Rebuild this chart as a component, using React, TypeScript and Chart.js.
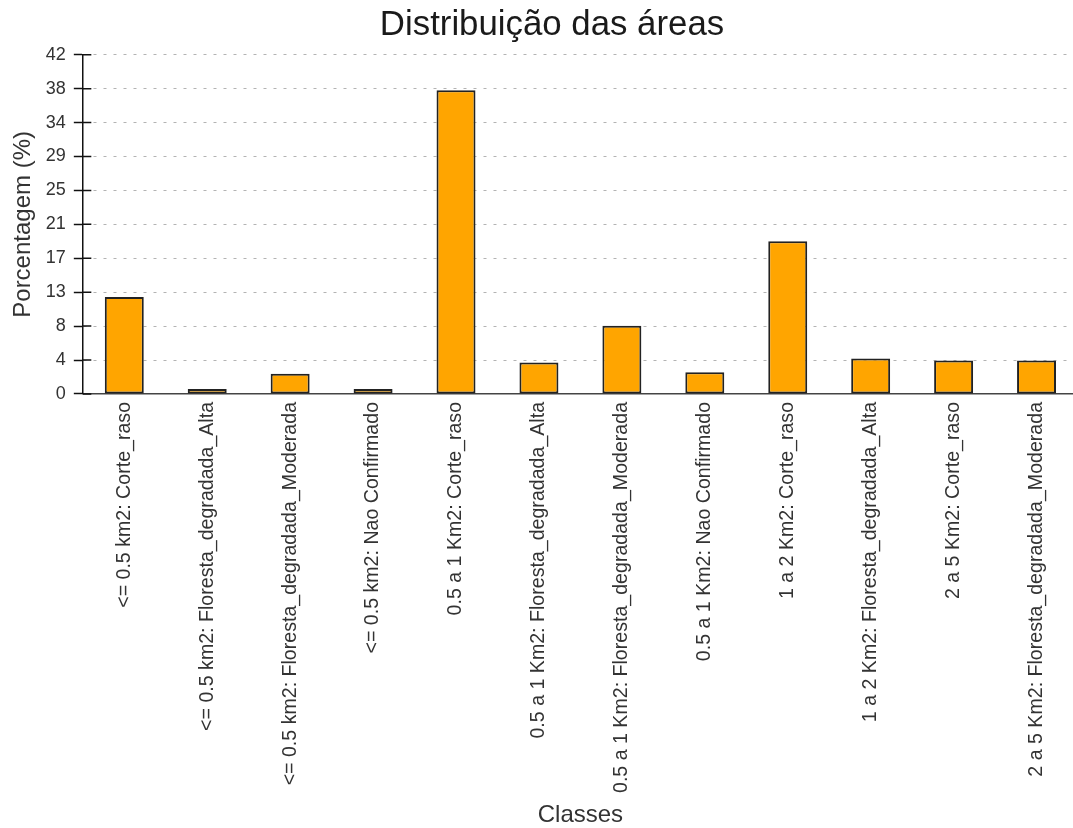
import React, { useEffect, useRef } from "react";
import { Chart, registerables } from "chart.js";

Chart.register(...registerables);

const categories = [
  "<= 0.5 km2: Corte_raso",
  "<= 0.5 km2: Floresta_degradada_Alta",
  "<= 0.5 km2: Floresta_degradada_Moderada",
  "<= 0.5 km2: Nao Confirmado",
  "0.5 a 1 Km2: Corte_raso",
  "0.5 a 1 Km2: Floresta_degradada_Alta",
  "0.5 a 1 Km2: Floresta_degradada_Moderada",
  "0.5 a 1 Km2: Nao Confirmado",
  "1 a 2 Km2: Corte_raso",
  "1 a 2 Km2: Floresta_degradada_Alta",
  "2 a 5 Km2: Corte_raso",
  "2 a 5 Km2: Floresta_degradada_Moderada",
];

const percentages = [12.0, 0.6, 2.5, 0.6, 37.6, 3.9, 8.45, 2.7, 18.9, 4.4, 4.15, 4.15];

const yTickValues = [0, 4.2, 8.4, 12.6, 16.8, 21, 25.2, 29.4, 33.6, 37.8, 42];
const yTickLabels = ["0", "4", "8", "13", "17", "21", "25", "29", "34", "38", "42"];

const FONT = "'Liberation Sans', Arial, sans-serif";

const innerTicks = {
  id: "innerTicks",
  afterDraw(chart: any) {
    const y = chart.scales.y;
    const ctx = chart.ctx;
    const x0 = chart.chartArea.left;
    ctx.save();
    ctx.strokeStyle = "#111";
    ctx.lineWidth = 1.5;
    ctx.setLineDash([]);
    ctx.beginPath();
    yTickValues.forEach((v) => {
      const py = y.getPixelForValue(v);
      ctx.moveTo(x0, py);
      ctx.lineTo(x0 + 8.5, py);
    });
    ctx.stroke();
    ctx.restore();
  },
};

export default function App() {
  const ref = useRef<HTMLCanvasElement | null>(null);

  useEffect(() => {
    if (!ref.current) return;
    const chart = new Chart(ref.current, {
      type: "bar",
      data: {
        labels: categories,
        datasets: [
          {
            label: "Porcentagem",
            data: percentages,
            backgroundColor: "#FFA500",
            borderColor: "#222",
            borderWidth: 2,
            borderSkipped: false,
            barPercentage: 0.47,
            categoryPercentage: 1,
          },
        ],
      },
      options: {
        animation: false,
        responsive: false,
        devicePixelRatio: 1,
        layout: { padding: { left: 4, right: 0, top: 0, bottom: 0 } },
        plugins: {
          legend: { display: false },
          tooltip: { enabled: false },
          title: {
            display: true,
            text: "Distribuição das áreas",
            color: "#1a1a1a",
            font: { family: FONT, size: 34.8, weight: "normal" as any },
            padding: { top: 5, bottom: 8 },
          },
          subtitle: {
            display: true,
            position: "bottom",
            fullSize: false,
            text: "Classes",
            color: "#333",
            font: { family: FONT, size: 24, lineHeight: 1, weight: "normal" as any },
            padding: { top: 2, bottom: 1 },
          },
        },
        scales: {
          x: {
            grid: { display: false, drawTicks: false },
            border: { display: true, color: "#444", width: 1.5 },
            ticks: {
              autoSkip: false,
              minRotation: 90,
              maxRotation: 90,
              padding: 8,
              color: "#333",
              font: { family: FONT, size: 19.6 },
            },
          },
          y: {
            min: 0,
            max: 42,
            afterBuildTicks: (scale: any) => {
              scale.ticks = yTickValues.map((v) => ({ value: v }));
            },
            grid: {
              color: "#b3b3b3",
              lineWidth: 1,
              tickLength: 9,
              tickColor: "#111",
              tickWidth: 1.5,
              tickBorderDash: [],
            } as any,
            border: { display: true, color: "#111", width: 1.5, dash: [3, 7] },
            ticks: {
              padding: 8,
              color: "#333",
              font: { family: FONT, size: 18 },
              callback: (_v: any, i: number) => yTickLabels[i],
            },
            title: {
              display: true,
              text: "Porcentagem (%)",
              color: "#333",
              font: { family: FONT, size: 24, lineHeight: 1.2 },
              padding: { top: 5, bottom: 0 },
            },
          },
          yRight: {
            type: "linear",
            position: "right",
            display: true,
            grid: { display: false, drawTicks: false },
            border: { display: false },
            ticks: { display: false },
            afterFit: (scale: any) => {
              scale.width = 22;
            },
          },
        },
      },
      plugins: [innerTicks],
    });
    return () => chart.destroy();
  }, []);

  return (
    <div
      style={{
        position: "fixed",
        left: 0,
        top: 0,
        width: 1073,
        height: 828,
        overflow: "hidden",
        background: "#fff",
      }}
    >
      <canvas ref={ref} width={1100} height={828} style={{ display: "block" }} />
    </div>
  );
}
